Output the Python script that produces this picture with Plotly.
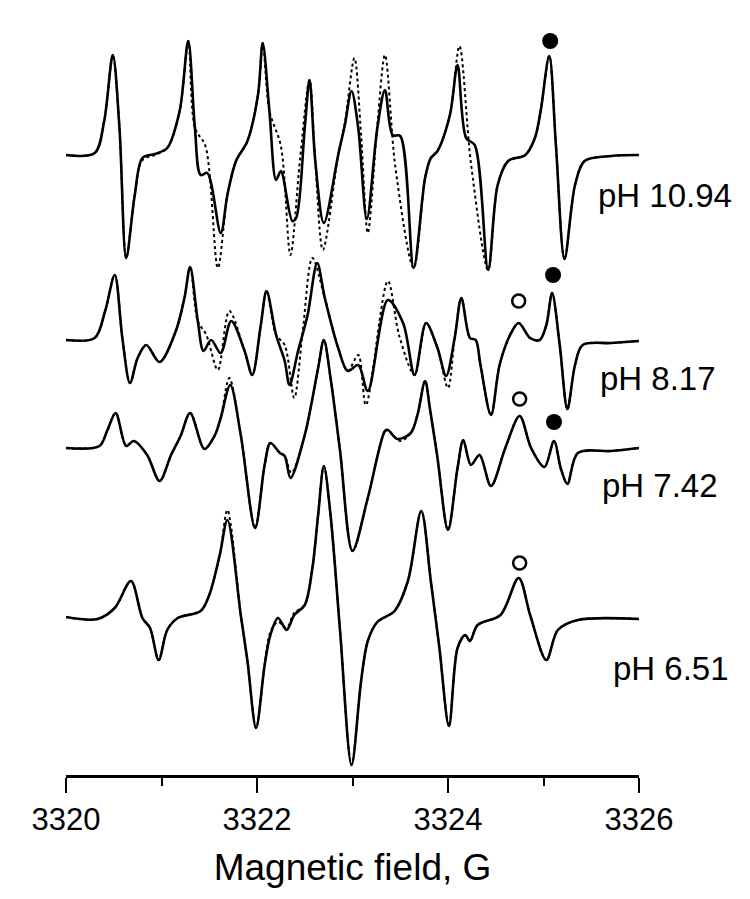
import plotly.graph_objects as go

# ---------------- data (field in G, intensity in arbitrary units) ----------------
field_1094 = [3320.00, 3320.30, 3320.40, 3320.49, 3320.56, 3320.63, 3320.72, 3320.80, 3320.93, 3321.06,
              3321.19, 3321.28, 3321.35, 3321.41, 3321.48, 3321.62, 3321.69, 3321.78, 3321.90, 3322.01,
              3322.06, 3322.13, 3322.20, 3322.25, 3322.37, 3322.41, 3322.50, 3322.55, 3322.61, 3322.70,
              3322.85, 3322.92, 3322.99, 3323.06, 3323.15, 3323.26, 3323.34, 3323.42, 3323.50, 3323.64,
              3323.76, 3323.82, 3323.89, 3324.02, 3324.10, 3324.19, 3324.28, 3324.42, 3324.52, 3324.63,
              3324.81, 3324.91, 3324.97, 3325.06, 3325.13, 3325.22, 3325.33, 3325.43, 3325.71, 3326.00]
exp_1094 = [0, 2, 34, 100, 27, -103, -40, -3, 1, 7,
            44, 114, 27, -20, -18, -78, -40, -6, 14, 60,
            112, 44, -25, -16, -66, -63, 27, 75, -6, -68,
            0, 30, 64, 27, -64, 27, 65, 20, 19, -113,
            -23, -3, 4, 40, 90, 17, 10, -115, -30, -6,
            0, 17, 44, 99, 10, -104, -30, -6, -1, 0]

sim_field_1094 = [3320.00, 3320.30, 3320.40, 3320.49, 3320.56, 3320.63, 3320.72, 3320.80, 3320.93, 3321.06,
                  3321.19, 3321.28, 3321.35, 3321.46, 3321.59, 3321.69, 3321.78, 3321.90, 3322.01, 3322.06,
                  3322.13, 3322.25, 3322.35, 3322.45, 3322.55, 3322.61, 3322.69, 3322.85, 3322.92, 3323.02,
                  3323.09, 3323.16, 3323.26, 3323.34, 3323.45, 3323.64, 3323.76, 3323.82, 3323.89, 3324.02,
                  3324.12, 3324.24, 3324.42, 3324.52, 3324.63, 3324.81, 3324.91, 3324.97, 3325.06, 3325.13,
                  3325.22, 3325.33, 3325.43, 3325.71, 3326.00]
sim_1094 = [0, 2, 34, 100, 27, -103, -40, -5, 0, 7,
            44, 114, 27, 9, -113, -40, -6, 14, 60, 112,
            44, 9, -100, -5, 75, -6, -95, 0, 32, 97,
            20, -78, 30, 100, -13, -113, -23, -3, 4, 40,
            109, -8, -115, -30, -6, 0, 17, 44, 99, 10,
            -104, -30, -6, -1, 0]

field_817 = [3320.00, 3320.30, 3320.41, 3320.51, 3320.59, 3320.67, 3320.75, 3320.84, 3320.98, 3321.15,
             3321.24, 3321.30, 3321.38, 3321.44, 3321.52, 3321.62, 3321.73, 3321.87, 3321.95, 3322.04,
             3322.10, 3322.20, 3322.29, 3322.34, 3322.43, 3322.53, 3322.63, 3322.71, 3322.85, 3322.95,
             3323.06, 3323.16, 3323.37, 3323.53, 3323.65, 3323.77, 3323.89, 3323.98, 3324.07,
             3324.14, 3324.23, 3324.29, 3324.34, 3324.45, 3324.54, 3324.65, 3324.74, 3324.86, 3324.96,
             3325.03, 3325.09, 3325.17, 3325.25, 3325.33, 3325.41, 3325.71, 3326.00]
exp_817 = [0, 2, 29, 65, 2, -43, -18, -5, -22, 9,
           42, 73, 19, -11, 0, -13, 19, -11, -35, 15,
           49, 5, -21, -45, -11, 25, 77, 42, -8, -31,
           -25, -51, 40, 17, -35, 17, -8, -36, 2,
           42, 2, 0, -25, -75, -25, 5, 17, 2, 0,
           15, 47, -5, -69, -25, -5, -3, -1]

sim_field_817 = [3320.00, 3320.30, 3320.41, 3320.51, 3320.59, 3320.67, 3320.75, 3320.84, 3320.98, 3321.15,
                 3321.24, 3321.30, 3321.38, 3321.47, 3321.59, 3321.71, 3321.87, 3321.95, 3322.04, 3322.10,
                 3322.20, 3322.29, 3322.39, 3322.48, 3322.58, 3322.71, 3322.85, 3322.95, 3323.06, 3323.14,
                 3323.37, 3323.49, 3323.65, 3323.77, 3323.89, 3324.00, 3324.07, 3324.14, 3324.23, 3324.29,
                 3324.34, 3324.45, 3324.54, 3324.65, 3324.74, 3324.86, 3324.96, 3325.03, 3325.09, 3325.17,
                 3325.25, 3325.33, 3325.41, 3325.71, 3326.00]
sim_817 = [0, 2, 29, 65, 2, -43, -18, -5, -22, 9,
           42, 73, 19, 5, -30, 29, -11, -35, 15, 49,
           5, -5, -58, 10, 82, 42, -8, -31, -15, -65,
           59, 4, -35, 17, -8, -48, 2, 42, 2, 0,
           -25, -75, -25, 5, 17, 2, 0, 15, 47, -5,
           -69, -25, -5, -3, -1]

field_742 = [3320.00, 3320.35, 3320.43, 3320.52, 3320.63, 3320.71, 3320.85, 3320.98, 3321.10, 3321.20,
             3321.30, 3321.45, 3321.56, 3321.62, 3321.72, 3321.83, 3321.98, 3322.08, 3322.14, 3322.24,
             3322.29, 3322.35, 3322.50, 3322.64, 3322.70, 3322.77, 3322.87, 3323.00, 3323.16, 3323.34,
             3323.37, 3323.47, 3323.61, 3323.68, 3323.76, 3323.81, 3323.89, 3324.00, 3324.10, 3324.16,
             3324.24, 3324.33, 3324.45, 3324.60, 3324.75, 3324.87, 3325.01, 3325.11, 3325.18, 3325.25,
             3325.36, 3325.71, 3326.00]
exp_742 = [0, 2, 17, 35, 2, 7, -7, -33, -7, 12,
           35, -1, 13, 30, 63, 13, -80, -17, 5, -5,
           -8, -30, 13, 80, 108, 70, -3, -103, -50, 17,
           18, 9, 15, 33, 67, 40, -10, -82, -20, 8,
           -17, -7, -38, 0, 32, 0, -19, 7, -20, -36,
           -5, -3, 0]

sim_field_742 = [3320.00, 3320.35, 3320.43, 3320.52, 3320.63, 3320.71, 3320.85, 3320.98, 3321.10, 3321.20,
                 3321.30, 3321.45, 3321.56, 3321.62, 3321.71, 3321.83, 3321.98, 3322.08, 3322.14, 3322.24,
                 3322.29, 3322.36, 3322.50, 3322.64, 3322.70, 3322.77, 3322.87, 3323.00, 3323.16, 3323.34,
                 3323.37, 3323.50, 3323.61, 3323.68, 3323.76, 3323.81, 3323.89, 3324.00, 3324.10, 3324.16,
                 3324.24, 3324.33, 3324.45, 3324.60, 3324.75, 3324.87, 3325.01, 3325.11, 3325.18, 3325.25,
                 3325.36, 3325.71, 3326.00]
sim_742 = [0, 2, 17, 35, 2, 7, -7, -33, -7, 12,
           35, -1, 13, 30, 70, 13, -80, -17, 5, -5,
           -8, -25, 13, 80, 108, 70, -3, -103, -50, 17,
           18, 7, 15, 33, 67, 40, -10, -82, -20, 8,
           -17, -7, -38, 0, 32, 0, -19, 7, -20, -36,
           -5, -3, 0]

field_651 = [3320.00, 3320.33, 3320.51, 3320.68, 3320.80, 3320.88, 3320.97, 3321.06, 3321.17, 3321.41,
             3321.50, 3321.61, 3321.69, 3321.83, 3321.90, 3321.99, 3322.08, 3322.14, 3322.22, 3322.31,
             3322.39, 3322.50, 3322.58, 3322.64, 3322.70, 3322.77, 3322.87, 3322.99, 3323.09, 3323.16,
             3323.26, 3323.44, 3323.58, 3323.72, 3323.82, 3323.91, 3324.01, 3324.10, 3324.18, 3324.23,
             3324.31, 3324.55, 3324.74, 3324.86, 3325.03, 3325.15, 3325.36, 3326.00]
exp_651 = [1, -1, 10, 37, 0, -10, -42, -12, 0, 7,
           23, 63, 98, 3, -43, -110, -47, -17, 0, -12,
           3, 13, 50, 103, 152, 103, -13, -147, -63, -23,
           -4, 7, 37, 107, 37, -30, -108, -30, -17, -23,
           -7, 3, 40, 3, -42, -12, -2, -1]
sim_651 = [1, -1, 10, 37, 0, -10, -42, -12, 0, 7,
           23, 63, 108, 3, -43, -110, -47, -14, -4, -10,
           5, 13, 50, 103, 152, 103, -13, -147, -63, -23,
           -4, 7, 37, 107, 37, -30, -108, -30, -17, -23,
           -7, 3, 40, 3, -42, -12, -2, -1]

ph_labels = ["pH 10.94", "pH 8.17", "pH 7.42", "pH 6.51"]
offsets = [0, -185, -293, -463]
label_field = [3325.55, 3325.57, 3325.59, 3325.71]
label_dy = [-40, -38, -37, -50]

filled_field = [3325.07, 3325.10, 3325.11]
filled_height = [114, 65, 26]
filled_spec = [0, 1, 2]
open_field = [3324.74, 3324.75, 3324.75]
open_height = [39, 49, 55]
open_spec = [1, 2, 3]

tick_vals = [3320, 3322, 3324, 3326]
minor_vals = [3321, 3323, 3325]

FONT = "Arial, Liberation Sans, sans-serif"

# ---------------- figure ----------------
spectra = [
    (field_1094, exp_1094, sim_field_1094, sim_1094),
    (field_817, exp_817, sim_field_817, sim_817),
    (field_742, exp_742, sim_field_742, sim_742),
    (field_651, exp_651, field_651, sim_651),
]

fig = go.Figure()
for (fx, fy, sx, sy), off in zip(spectra, offsets):
    fig.add_trace(go.Scatter(x=sx, y=[v + off for v in sy], mode="lines",
                             line=dict(color="black", width=2, dash="dot", shape="spline", smoothing=0.9),
                             showlegend=False, hoverinfo="skip"))
    fig.add_trace(go.Scatter(x=fx, y=[v + off for v in fy], mode="lines",
                             line=dict(color="black", width=2.6, shape="spline", smoothing=0.9),
                             showlegend=False, hoverinfo="skip"))

fig.add_trace(go.Scatter(x=filled_field, y=[h + offsets[s] for h, s in zip(filled_height, filled_spec)],
                         mode="markers", marker=dict(symbol="circle", size=16, color="black"),
                         showlegend=False, hoverinfo="skip"))
fig.add_trace(go.Scatter(x=open_field, y=[h + offsets[s] for h, s in zip(open_height, open_spec)],
                         mode="markers",
                         marker=dict(symbol="circle-open", size=13, color="black", line=dict(width=2.5)),
                         showlegend=False, hoverinfo="skip"))

for lab, lx, dy, off in zip(ph_labels, label_field, label_dy, offsets):
    fig.add_annotation(x=lx, y=off + dy, text=lab, showarrow=False, xanchor="left", yanchor="middle",
                       font=dict(family=FONT, size=33, color="black"))

fig.update_layout(
    width=750, height=899,
    margin=dict(l=58, r=119, t=0, b=132),
    plot_bgcolor="white", paper_bgcolor="white",
    font=dict(family=FONT, color="black"),
    xaxis=dict(range=[3320, 3326], tickvals=tick_vals, ticktext=[str(v) for v in tick_vals],
               ticks="outside", ticklen=15, tickwidth=2, tickcolor="black",
               showline=True, linewidth=3, linecolor="black",
               minor=dict(tickvals=minor_vals, ticks="outside", ticklen=8, tickwidth=2, tickcolor="black"),
               showgrid=False, zeroline=False,
               tickfont=dict(size=31, color="black"),
               title=dict(text="Magnetic field, G", font=dict(size=37, color="black"), standoff=18)),
    yaxis=dict(visible=False, range=[-620, 147]),
)

fig.write_html("out.html")
